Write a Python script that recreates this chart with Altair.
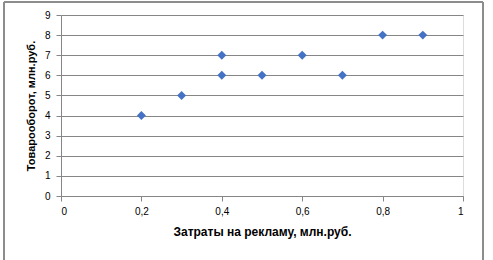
import altair as alt
import pandas as pd

x_vals = [0.2, 0.3, 0.4, 0.4, 0.5, 0.6, 0.7, 0.8, 0.9]
y_vals = [4, 5, 6, 7, 6, 7, 6, 8, 8]
x_title = "Затраты на рекламу, млн.руб."
y_title = "Товарооборот, млн.руб."

df = pd.DataFrame({"x": x_vals, "y": y_vals})

FONT = "Liberation Sans"
GRID = "#868686"

points = alt.Chart(df).mark_point(
    shape="diamond", filled=True, size=80, color="#4472C4", opacity=1
).encode(
    x=alt.X("x:Q", scale=alt.Scale(domain=[0, 1], nice=False),
            axis=alt.Axis(values=[0, 0.2, 0.4, 0.6, 0.8, 1],
                          labelExpr="replace(format(datum.value, '.1~f'), '.', ',')",
                          title=x_title, titleFontSize=12, grid=False,
                          domainColor=GRID, tickColor=GRID,
                          tickSize=5, labelPadding=5, titlePadding=10)),
    y=alt.Y("y:Q", scale=alt.Scale(domain=[0, 9], nice=False),
            axis=alt.Axis(values=list(range(10)), title=y_title, titleFontSize=11,
                          grid=True, gridColor=GRID, domainColor=GRID, tickColor=GRID,
                          tickSize=5, labelPadding=6, titlePadding=8)),
)

frame = alt.Chart(df).mark_rect(fill=None, stroke="#8c8c8c", strokeWidth=1).encode(
    x=alt.value(-57), x2=alt.value(422), y=alt.value(-13), y2=alt.value(60 + 200)
)

chart = alt.layer(frame, points).properties(
    width=402, height=181,
    padding={"left": 61, "top": 15, "right": 30, "bottom": 64},
    autosize=alt.AutoSizeParams(type="none"),
).configure_view(stroke=None).configure_axis(
    labelFont=FONT, titleFont=FONT, labelFontSize=11,
    labelColor="#000000", titleColor="#000000", titleFontWeight="bold"
).configure(background="white")

chart.save("out.html", embed_options={"renderer": "svg", "actions": False})
